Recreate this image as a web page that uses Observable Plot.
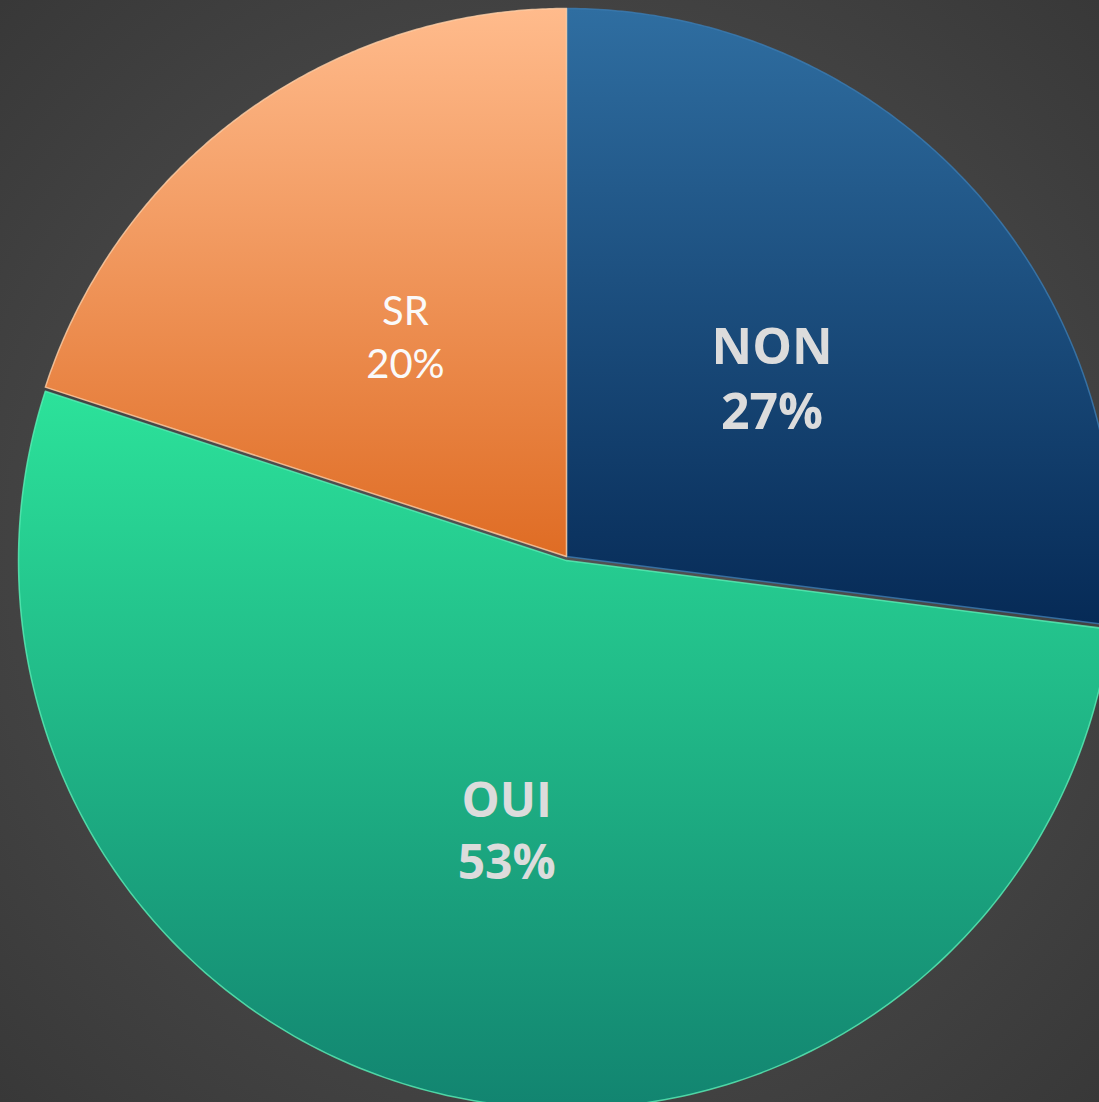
<!DOCTYPE html>
<html>
<head>
<meta charset="utf-8">
<script src="https://cdn.jsdelivr.net/npm/d3@7"></script>
<script src="https://cdn.jsdelivr.net/npm/@observablehq/plot@0.6"></script>
<style>
  html, body { margin: 0; padding: 0; width: 1099px; height: 1102px; overflow: hidden; }
  body { background: radial-gradient(circle at 50% 50%, #525252 0%, #4a4a4a 45%, #383838 100%); }
  #chart svg { display: block; background: transparent; }
</style>
</head>
<body>
<div id="chart"></div>
<script>
// Data
const categories = ["NON", "OUI", "SR"];
const values = [27, 53, 20];
const labels = ["27%", "53%", "20%"];

const W = 1099, H = 1102;
const cx = 566, cy = 556, R = 548;

const gradStops = {
  NON: ["#2f6ea1", "#062a56"],
  OUI: ["#2ce29a", "#128470"],
  SR:  ["#ffbb8c", "#df6c24"]
};
const strokeCol = { NON: "#3b7cb3", OUI: "#5af0b8", SR: "#ffd0a8" };
const textCol = { NON: "#dcdcdc", OUI: "#dcdcdc", SR: "#fafafa" };
const textWeight = { NON: 700, OUI: 700, SR: 400 };
const textSize = { NON: 50, OUI: 48, SR: 40 };
const textFont = {
  NON: "'Open Sans', 'DejaVu Sans', sans-serif",
  OUI: "'Open Sans', 'DejaVu Sans', sans-serif",
  SR: "Lato, 'Noto Sans', sans-serif"
};
const explode = { NON: 0, OUI: 0.0075, SR: 0 };

const pie = d3.pie().sort(null).value(d => d.value);
const arcs = pie(categories.map((c, i) => ({ cat: c, value: values[i], label: labels[i] })));

const polyPts = [];
const labelPts = [];
for (const a of arcs) {
  const c = a.data.cat;
  const dy = explode[c];
  const n = 200;
  polyPts.push({ cat: c, x: 0, y: dy });
  for (let k = 0; k <= n; k++) {
    const t = a.startAngle + (a.endAngle - a.startAngle) * k / n;
    polyPts.push({ cat: c, x: Math.sin(t), y: -Math.cos(t) + dy });
  }
  polyPts.push({ cat: c, x: 0, y: dy });
  const m = (a.startAngle + a.endAngle) / 2;
  labelPts.push({ cat: c, x: 0.5 * Math.sin(m), y: -0.5 * Math.cos(m) + dy, text: c + "\n" + a.data.label });
}

const defs = () => {
  const ns = "http://www.w3.org/2000/svg";
  const d = document.createElementNS(ns, "defs");
  for (const c of categories) {
    const g = document.createElementNS(ns, "linearGradient");
    g.setAttribute("id", "g-" + c);
    g.setAttribute("x1", "0"); g.setAttribute("y1", "0");
    g.setAttribute("x2", "0"); g.setAttribute("y2", "1");
    const [a, b] = gradStops[c];
    const s1 = document.createElementNS(ns, "stop");
    s1.setAttribute("offset", "0"); s1.setAttribute("stop-color", a);
    const s2 = document.createElementNS(ns, "stop");
    s2.setAttribute("offset", "1"); s2.setAttribute("stop-color", b);
    g.append(s1, s2);
    d.append(g);
  }
  const f = document.createElementNS(ns, "filter");
  f.setAttribute("id", "shadow");
  f.setAttribute("x", "-10%"); f.setAttribute("y", "-10%");
  f.setAttribute("width", "120%"); f.setAttribute("height", "120%");
  f.innerHTML = '<feDropShadow dx="2" dy="3" stdDeviation="3" flood-color="#000" flood-opacity="0.45"/>';
  d.append(f);
  return d;
};

const marks = [defs];
for (const c of categories) {
  marks.push(Plot.line(polyPts.filter(p => p.cat === c), {
    x: "x", y: "y",
    fill: `url(#g-${c})`,
    stroke: strokeCol[c], strokeWidth: 1.5, strokeOpacity: 0.8,
    curve: "linear",
    style: "filter:url(#shadow)"
  }));
}
for (const c of categories) {
  marks.push(Plot.text(labelPts.filter(p => p.cat === c), {
    x: "x", y: "y", text: "text",
    fill: textCol[c], fontSize: textSize[c], fontWeight: textWeight[c],
    lineHeight: c === "SR" ? 1.32 : 1.3, lineAnchor: "middle",
    fontFamily: textFont[c]
  }));
}

const chart = Plot.plot({
  width: W, height: H,
  margin: 0,
  style: { background: "transparent", overflow: "visible" },
  x: { domain: [-1, 1], range: [cx - R, cx + R], axis: null },
  y: { domain: [-1, 1], range: [cy - R, cy + R], axis: null },
  marks
});
document.getElementById("chart").append(chart);
</script>
</body>
</html>
